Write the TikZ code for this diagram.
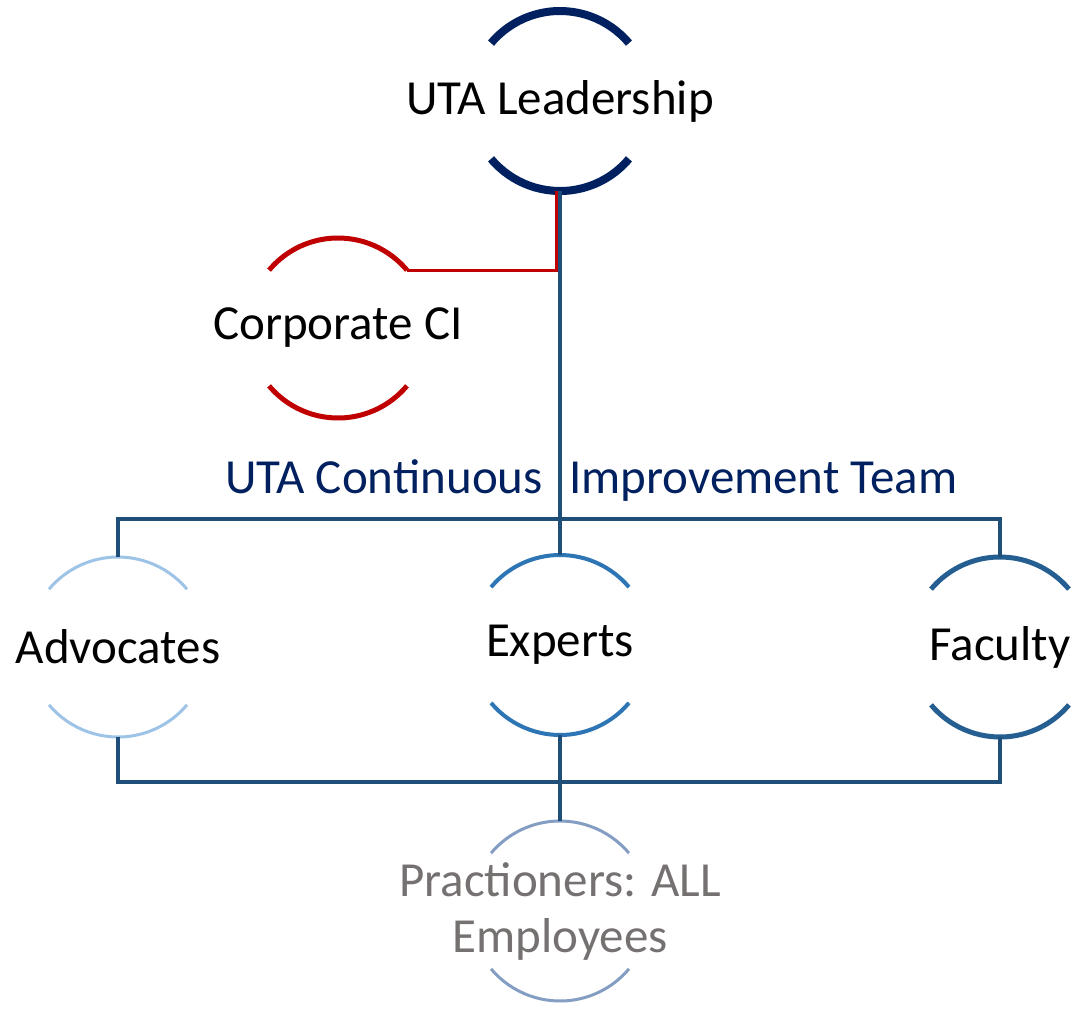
\documentclass[tikz,border=0pt]{standalone}
\usepackage{fontspec}
\setmainfont{Carlito}
\definecolor{navy}{RGB}{0,32,96}
\definecolor{linkblue}{RGB}{31,78,121}
\definecolor{corpred}{RGB}{192,0,0}
\definecolor{advblue}{RGB}{157,195,230}
\definecolor{expblue}{RGB}{46,117,182}
\definecolor{facblue}{RGB}{37,94,145}
\definecolor{pracblue}{RGB}{132,157,194}
\definecolor{pracgrey}{RGB}{118,113,113}
\tikzset{every label/.style={font=\fontsize{49}{56}\selectfont, align=center}}
\begin{document}
\begin{tikzpicture}[x=1pt, y=1pt]

    \tikzset{ring/.style={circle, minimum size=180pt, inner sep=0pt, outer sep=0pt}}
    \tikzset{link/.style={draw=linkblue, line width=3.5pt}}
    \useasboundingbox (0,-1009) rectangle (1076,0);

    \node[ring, label=center:UTA Leadership] (lead) at (560, -101) {};
    \node[ring, label=center:Corporate CI] (corp) at (338, -328) {};
    \node[ring, label=center:Advocates] (adv) at (118, -647) {};
    \node[ring, label=center:Experts] (exp) at (560, -645) {};
    \node[ring, label=center:Faculty] (fac) at (1000, -647) {};
    \node[ring, label={[text=pracgrey]center:Practioners: ALL\\Employees}] (prac) at (560, -911) {};

    \node[anchor=base east, text=navy, font=\fontsize{49}{56}\selectfont, inner sep=0pt] (ciL) at (543, -493) {UTA Continuous};
    \node[anchor=base west, text=navy, font=\fontsize{49}{56}\selectfont, inner sep=0pt] (ciR) at (569, -493) {Improvement Team};

    % arcs of the rings
    \draw[navy, line width=8pt] (lead.40) arc[start angle=40, end angle=140, radius=90pt];
    \draw[navy, line width=8pt] (lead.220) arc[start angle=220, end angle=320, radius=90pt];
    \draw[corpred, line width=5pt] (corp.40) arc[start angle=40, end angle=140, radius=90pt];
    \draw[corpred, line width=5pt] (corp.220) arc[start angle=220, end angle=320, radius=90pt];
    \draw[advblue, line width=3pt] (adv.40) arc[start angle=40, end angle=140, radius=90pt];
    \draw[advblue, line width=3pt] (adv.220) arc[start angle=220, end angle=320, radius=90pt];
    \draw[expblue, line width=4pt] (exp.40) arc[start angle=40, end angle=140, radius=90pt];
    \draw[expblue, line width=4pt] (exp.220) arc[start angle=220, end angle=320, radius=90pt];
    \draw[facblue, line width=5pt] (fac.40) arc[start angle=40, end angle=140, radius=90pt];
    \draw[facblue, line width=5pt] (fac.220) arc[start angle=220, end angle=320, radius=90pt];
    \draw[pracblue, line width=3pt] (prac.40) arc[start angle=40, end angle=140, radius=90pt];
    \draw[pracblue, line width=3pt] (prac.220) arc[start angle=220, end angle=320, radius=90pt];

    \coordinate (bartop) at (560, -519);
    \coordinate (barbot) at (560, -782);

    \draw[link] (lead.south) -- (exp.north);
    \draw[link] (adv.north) |- (bartop) -| (fac.north);
    \draw[link] (adv.south) |- (barbot) -| (fac.south);
    \draw[link] (exp.south) -- (barbot);
    \draw[link] (barbot) -- (prac.north);
    \draw[corpred, line width=3pt] (corp.40) -| ([xshift=-4pt]lead.south);

\end{tikzpicture}
\end{document}
